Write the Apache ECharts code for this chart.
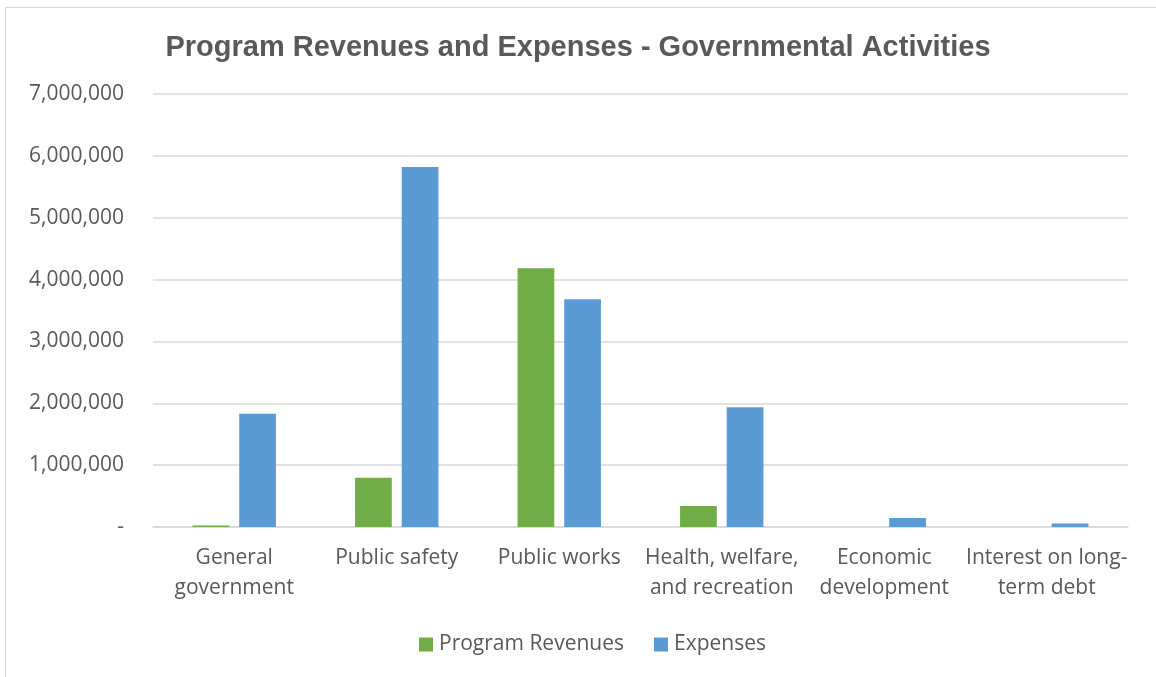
<!DOCTYPE html>
<html>
<head>
<meta charset="utf-8">
<script src="https://cdn.jsdelivr.net/npm/echarts@6/dist/echarts.min.js"></script>
<style>html,body{margin:0;padding:0;background:#fff;}#c{width:1156px;height:677px;}</style>
</head>
<body>
<div id="c"></div>
<script>
const categories = ["General\ngovernment", "Public safety", "Public works", "Health, welfare,\nand recreation", "Economic\ndevelopment", "Interest on long-\nterm debt"];
const programRevenues = [25000, 798000, 4183000, 339000, 0, 0];
const expenses = [1832000, 5820000, 3680000, 1934000, 145000, 55000];
const yTicks = { min: 0, max: 7000000, interval: 1000000 };

const txt = '#595959';
const chart = echarts.init(document.getElementById('c'));
chart.setOption({
  backgroundColor: '#fff',
  animation: false,
  title: {
    text: 'Program Revenues and Expenses - Governmental Activities',
    left: 'center', top: 28,
    textStyle: { fontFamily: 'Liberation Sans', fontWeight: 'bold', fontSize: 29, color: txt }
  },
  graphic: [{
    type: 'rect', silent: true,
    shape: { x: 5.5, y: 7.5, width: 1200, height: 720 },
    style: { fill: 'none', stroke: '#D9D9D9', lineWidth: 1 }
  }],
  legend: {
    top: 629, left: 414,
    itemWidth: 14, itemHeight: 14, itemGap: 30,
    icon: 'rect',
    textStyle: { fontFamily: 'Open Sans', fontSize: 21, color: txt, padding: [0, 0, 0, 1] },
    data: ['Program Revenues', 'Expenses']
  },
  grid: { left: 153, right: 28, top: 94, bottom: 150 },
  xAxis: {
    type: 'category', data: categories,
    axisLine: { lineStyle: { color: '#D9D9D9', width: 1.5 } },
    axisTick: { show: false },
    axisLabel: { fontFamily: 'Open Sans', fontSize: 21, color: txt, lineHeight: 30, margin: 16, interval: 0 }
  },
  yAxis: {
    type: 'value', min: yTicks.min, max: yTicks.max, interval: yTicks.interval,
    axisLine: { show: false }, axisTick: { show: false },
    splitLine: { lineStyle: { color: '#D9D9D9', width: 1.5 } },
    axisLabel: {
      fontFamily: 'Open Sans', fontSize: 21, color: txt, margin: 29,
      formatter: v => v === 0 ? '-' : v.toLocaleString('en-US')
    }
  },
  series: [
    { name: 'Program Revenues', type: 'bar', data: programRevenues, barWidth: '22.6%', barGap: '27%',
      itemStyle: { color: '#70AD47' } },
    { name: 'Expenses', type: 'bar', data: expenses, barWidth: '22.6%', barGap: '27%',
      itemStyle: { color: '#5B9BD5' } }
  ]
});
</script>
</body>
</html>
